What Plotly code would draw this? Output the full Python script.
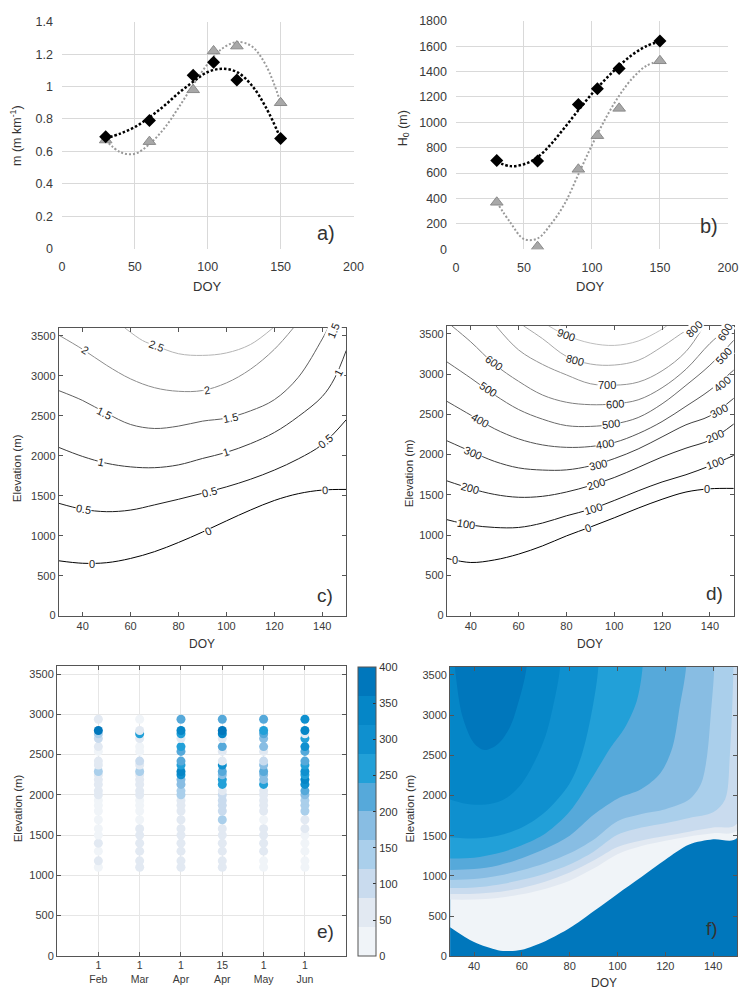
import plotly.graph_objects as go

W, H = 749, 997
FONT = "Liberation Sans, Arial, Helvetica, sans-serif"
TXT = "#333333"

# ---------------- Panel a / b : observations ----------------
DOY_OBS = [30, 60, 90, 104, 120, 150]
M_BLACK = [0.69, 0.79, 1.07, 1.15, 1.04, 0.68]
M_GRAY = [0.67, 0.66, 0.98, 1.22, 1.25, 0.90]
H0_BLACK = [700, 695, 1140, 1265, 1425, 1640]
H0_GRAY = [370, 20, 630, 895, 1110, 1485]

# trend lines
TREND_DOY = [30, 40, 50, 60, 70, 80, 90, 100, 110, 120, 130, 140, 150]
M_BLACK_TREND = [0.68, 0.71, 0.75, 0.81, 0.88, 0.96, 1.03, 1.09, 1.11, 1.09, 1.01, 0.87, 0.68]
M_GRAY_TREND = [0.67, 0.595, 0.585, 0.645, 0.74, 0.87, 1.01, 1.14, 1.235, 1.275, 1.25, 1.13, 0.90]
H0_BLACK_TREND = [690, 655, 670, 725, 830, 960, 1095, 1225, 1340, 1445, 1535, 1600, 1640]
H0_GRAY_TREND = [370, 210, 80, 85, 200, 360, 590, 820, 1030, 1210, 1350, 1445, 1485]

# ---------------- Panel c : contour lines ----------------
C_LEVELS = ["0", "0.5", "1", "1.5", "2", "2.5"]
C_DOY = [
    [30, 40, 50, 60, 70, 80, 90, 100, 110, 120, 130, 140, 150],
    [30, 40, 50, 60, 70, 80, 90, 100, 110, 120, 130, 140, 150],
    [30, 40, 50, 60, 70, 80, 90, 100, 110, 120, 130, 140, 145, 150],
    [30, 40, 50, 60, 70, 80, 90, 100, 110, 120, 130, 140, 142.5],
    [30, 40, 50, 60, 70, 80, 90, 100, 110, 120, 128],
    [57.5, 65, 70, 80, 90, 100, 110, 119.5],
]
C_ELEV = [
    [686, 655, 662, 715, 800, 915, 1045, 1185, 1320, 1440, 1525, 1570, 1578],
    [1405, 1330, 1300, 1320, 1385, 1455, 1530, 1610, 1705, 1820, 1960, 2140, 2450],
    [2104, 1990, 1905, 1860, 1850, 1885, 1965, 2042, 2150, 2290, 2490, 2740, 2960, 3316],
    [2814, 2690, 2530, 2390, 2340, 2370, 2432, 2470, 2560, 2700, 2980, 3460, 3600],
    [3508, 3330, 3130, 2960, 2850, 2805, 2815, 2910, 3080, 3330, 3600],
    [3600, 3440, 3380, 3275, 3254, 3285, 3390, 3600],
]
C_COLORS = ["#000000", "#1c1c1c", "#3a3a3a", "#5e5e5e", "#8c8c8c", "#b4b4b4"]
# label text, DOY, elevation, angle
C_LABELS = [
    ("0", 44, 650, 0), ("0", 92.5, 1060, -24), ("0", 141, 1570, -3),
    ("0.5", 40.3, 1330, 10), ("0.5", 93, 1540, -14), ("0.5", 141.5, 2180, -39),
    ("1", 47.8, 1920, 12), ("1", 100, 2042, -17), ("1", 146.5, 3040, -62),
    ("1.5", 49, 2540, 26), ("1.5", 101.5, 2475, -12), ("1.5", 144.6, 3560, -68),
    ("2", 41, 3316, 32), ("2", 92, 2822, -10),
    ("2.5", 71, 3377, 20),
]

# ---------------- Panel d : contour lines ----------------
D_LEVELS = ["0", "100", "200", "300", "400", "500", "600", "700", "800", "900"]
D_GRID = [30, 40, 50, 60, 70, 80, 90, 100, 110, 120, 130, 140, 150]
D_DOY = [
    D_GRID, D_GRID, D_GRID, D_GRID, D_GRID, D_GRID,
    [32, 40, 50, 60, 70, 80, 90, 100, 110, 120, 130, 140, 148.5],
    [50.5, 60, 70, 80, 90, 100, 110, 120, 130, 137.5],
    [62, 70, 80, 90, 100, 110, 120, 130, 134],
    [72.5, 80, 90, 100, 110, 119, 122],
]
D_ELEV = [
    [711, 660, 692, 764, 866, 990, 1100, 1215, 1335, 1445, 1535, 1575, 1580],
    [1192, 1125, 1095, 1095, 1150, 1240, 1320, 1430, 1550, 1660, 1750, 1860, 1990],
    [1674, 1578, 1505, 1470, 1482, 1535, 1615, 1715, 1840, 1970, 2080, 2180, 2380],
    [2172, 2040, 1915, 1835, 1808, 1810, 1860, 1950, 2070, 2220, 2370, 2480, 2700],
    [2662, 2490, 2320, 2195, 2120, 2090, 2100, 2150, 2260, 2410, 2600, 2800, 3050],
    [3152, 2950, 2740, 2560, 2440, 2360, 2350, 2380, 2460, 2630, 2860, 3110, 3420],
    [3600, 3400, 3120, 2910, 2740, 2650, 2620, 2630, 2680, 2830, 3060, 3380, 3600],
    [3600, 3300, 3120, 2990, 2880, 2862, 2900, 3040, 3280, 3600],
    [3600, 3440, 3220, 3125, 3112, 3170, 3340, 3540, 3600],
    [3600, 3480, 3385, 3356, 3410, 3540, 3600],
]
D_LABELS = [
    ("0", 33.4, 690, 0), ("0", 88.9, 1085, -20), ("0", 138.9, 1578, 0),
    ("100", 38.2, 1135, 9), ("100", 91, 1330, -17), ("100", 142.3, 1895, -21),
    ("200", 39.6, 1585, 16), ("200", 92.3, 1635, -17), ("200", 142.3, 2225, -24),
    ("300", 41, 2025, 23), ("300", 93, 1875, -13), ("300", 143.7, 2540, -28),
    ("400", 43.7, 2430, 30), ("400", 96, 2128, -8), ("400", 145.1, 2880, -40),
    ("500", 47.1, 2810, 34), ("500", 98.5, 2375, -6), ("500", 145.8, 3220, -48),
    ("600", 49.9, 3140, 36), ("600", 100.5, 2632, -4), ("600", 146.4, 3520, -58),
    ("700", 96.8, 2862, 0),
    ("800", 83.4, 3180, 14), ("800", 133.4, 3560, -45),
    ("900", 80, 3480, 20),
]

# ---------------- Panel e : scatter ----------------
E_DATES = ["1<br>Feb", "1<br>Mar", "1<br>Apr", "15<br>Apr", "1<br>May", "1<br>Jun"]
E_ELEV = [1100, 1180, 1300, 1400, 1500, 1580, 1690, 1800, 1870, 1930, 2000, 2050,
          2130, 2190, 2250, 2290, 2370, 2420, 2540, 2600, 2700, 2760, 2800, 2940]
E_FEB = [30, 50, 30, 40, 20, 20, 10, 20, 20, 30, 50, 70, 50, 60, 40, 130, 40, 40, 30, 40, 90, 140, 380, 40]
E_MAR = [70, 70, 40, 40, 50, 50, 10, 30, 30, 30, 50, 50, 50, 40, 40, 150, 40, 100, 20, 30, 40, 260, 60, 30]
E_APR1 = [40, 40, 50, 40, 40, 60, 50, 60, 60, 60, 130, 140, 180, 180, 280, 330, 260, 200, 210, 260, 60, 270, 330, 220]
E_APR15 = [40, 60, 40, 40, 40, 50, 130, 100, 90, 80, 80, 60, 260, 260, 180, 230, 280, 70, 50, 210, 70, 340, 380, 220]
E_MAY = [20, 30, 40, 60, 70, 40, 30, 50, 50, 60, 60, 70, 270, 160, 180, 200, 170, 80, 70, 180, 170, 220, 270, 220]
E_JUN = [20, 20, 20, 30, 30, 40, 60, 140, 130, 140, 170, 220, 310, 330, 240, 290, 270, 220, 230, 280, 270, 70, 340, 310]
E_SERIES = [E_FEB, E_MAR, E_APR1, E_APR15, E_MAY, E_JUN]

# ---------------- Panel f : filled bands (boundaries of value >= level) ----------------
F_LEVELS = [0, 40, 80, 120, 160, 200, 240, 280, 320, 360]
F_DOY = [
    [30, 40, 50, 55, 60, 70, 80, 90, 100, 110, 120, 130, 140, 150],
    [30, 40, 50, 60, 70, 80, 90, 100, 110, 120, 130, 140, 150],
    [30, 40, 50, 60, 70, 80, 90, 100, 110, 120, 130, 140, 150],
    [30, 40, 50, 60, 70, 80, 90, 100, 110, 120, 130, 140, 145, 147, 148.5],
    [30, 40, 50, 60, 70, 80, 90, 100, 110, 120, 130, 135, 137.5, 139, 140.5],
    [30, 40, 50, 60, 70, 80, 90, 100, 110, 118, 123, 126, 128.7],
    [30, 40, 50, 60, 70, 80, 90, 97, 103, 108, 110.5],
    [30, 40, 50, 60, 70, 80, 85, 89, 92],
    [30, 36, 43, 50, 55, 60, 65, 70, 73, 76],
    [32, 35, 40, 44.5, 50, 55, 58, 62],
]
F_ELEV = [
    [360, 175, 75, 65, 80, 190, 350, 560, 775, 985, 1200, 1390, 1455, 1470],
    [704, 705, 725, 770, 840, 940, 1090, 1270, 1370, 1435, 1490, 1530, 1568],
    [773, 778, 800, 850, 930, 1040, 1190, 1360, 1440, 1495, 1550, 1600, 1649],
    [847, 855, 890, 950, 1030, 1140, 1300, 1510, 1600, 1655, 1720, 1790, 1950, 2500, 3600],
    [949, 960, 1000, 1070, 1160, 1280, 1450, 1680, 1770, 1830, 1950, 2150, 2500, 3000, 3600],
    [1072, 1085, 1130, 1220, 1340, 1500, 1760, 1960, 2080, 2280, 2600, 3100, 3600],
    [1216, 1225, 1280, 1380, 1530, 1800, 2250, 2590, 2840, 3170, 3600],
    [1481, 1465, 1500, 1600, 1800, 2150, 2500, 3000, 3600],
    [1949, 1900, 1885, 1920, 2000, 2150, 2400, 2750, 3100, 3600],
    [3600, 3000, 2650, 2565, 2640, 2850, 3100, 3600],
]
BAND_COLORS = ["#f0f4f8", "#e2e9f2", "#c9dbee", "#aacfeb", "#88bde3",
               "#56a9da", "#22a0d8", "#0f90cf", "#0586c7", "#0077bc"]
NOSNOW_COLOR = "#0077bc"
Y_CAP = 4300

# ---------------- layout helpers ----------------
def xd(a, b):
    return [a / W, b / W]


def yd(top, bottom):
    return [1 - bottom / H, 1 - top / H]


fig = go.Figure()

# ---- a ----
fig.add_trace(go.Scatter(x=TREND_DOY, y=M_GRAY_TREND, mode="lines", xaxis="x", yaxis="y",
                         line=dict(color="#9a9a9a", width=2, dash="2px,2px", shape="spline")))
fig.add_trace(go.Scatter(x=TREND_DOY, y=M_BLACK_TREND, mode="lines", xaxis="x", yaxis="y",
                         line=dict(color="#000000", width=2.5, dash="2.5px,2px", shape="spline")))
fig.add_trace(go.Scatter(x=DOY_OBS, y=M_GRAY, mode="markers", xaxis="x", yaxis="y",
                         marker=dict(symbol="triangle-up", size=11, color="#a8a8a8",
                                     line=dict(color="#8a8a8a", width=1))))
fig.add_trace(go.Scatter(x=DOY_OBS, y=M_BLACK, mode="markers", xaxis="x", yaxis="y",
                         marker=dict(symbol="diamond", size=10, color="#000000")))

# ---- b ----
fig.add_trace(go.Scatter(x=TREND_DOY, y=H0_GRAY_TREND, mode="lines", xaxis="x2", yaxis="y2",
                         line=dict(color="#9a9a9a", width=2, dash="2px,2px", shape="spline")))
fig.add_trace(go.Scatter(x=TREND_DOY, y=H0_BLACK_TREND, mode="lines", xaxis="x2", yaxis="y2",
                         line=dict(color="#000000", width=2.5, dash="2.5px,2px", shape="spline")))
fig.add_trace(go.Scatter(x=DOY_OBS, y=H0_GRAY, mode="markers", xaxis="x2", yaxis="y2",
                         marker=dict(symbol="triangle-up", size=11, color="#a8a8a8",
                                     line=dict(color="#8a8a8a", width=1))))
fig.add_trace(go.Scatter(x=DOY_OBS, y=H0_BLACK, mode="markers", xaxis="x2", yaxis="y2",
                         marker=dict(symbol="diamond", size=10, color="#000000")))

# ---- c ----
for doy, elev, col in zip(C_DOY, C_ELEV, C_COLORS):
    fig.add_trace(go.Scatter(x=doy, y=elev, mode="lines", xaxis="x3", yaxis="y3",
                             line=dict(color=col, width=1, shape="spline")))

# ---- d ----
for i, (doy, elev) in enumerate(zip(D_DOY, D_ELEV)):
    g = int(round(0 + 190 * i / (len(D_LEVELS) - 1)))
    col = "rgb(%d,%d,%d)" % (g, g, g)
    fig.add_trace(go.Scatter(x=doy, y=elev, mode="lines", xaxis="x4", yaxis="y4",
                             line=dict(color=col, width=1, shape="spline")))

# ---- e ----
cscale = []
for i, c in enumerate(BAND_COLORS):
    cscale.append([i / len(BAND_COLORS), c])
    cscale.append([(i + 1) / len(BAND_COLORS), c])

for k, vals in enumerate(E_SERIES):
    fig.add_trace(go.Scatter(
        x=[k + 1] * len(E_ELEV), y=E_ELEV, mode="markers", xaxis="x5", yaxis="y5",
        marker=dict(size=9, color=vals, colorscale=cscale, cmin=0, cmax=400,
                    showscale=(k == 0), line=dict(width=0),
                    colorbar=dict(x=361.5 / W, xanchor="left", xpad=0, ypad=0,
                                  y=1 - 962.7 / H, yanchor="bottom",
                                  len=(962.7 - 669.3) / H, lenmode="fraction",
                                  thickness=18, thicknessmode="pixels",
                                  outlinecolor="#555555", outlinewidth=1,
                                  tickvals=[0, 50, 100, 150, 200, 250, 300, 350, 400],
                                  ticks="inside", ticklen=3, tickcolor="#333333",
                                  tickfont=dict(family=FONT, size=11, color=TXT)))))

# ---- f ----
for doy, elev, col in zip(F_DOY, F_ELEV, BAND_COLORS):
    xs = list(doy) + [doy[-1], doy[0]]
    ys = list(elev) + [Y_CAP, Y_CAP]
    fig.add_trace(go.Scatter(x=xs, y=ys, mode="lines", fill="toself", fillcolor=col,
                             xaxis="x6", yaxis="y6", hoverinfo="skip",
                             line=dict(width=0, color=col, shape="spline", smoothing=0.9)))

# ---------------- axes ----------------
tickfont_ab = dict(family=FONT, size=12.5, color="#3a3a3a")
tickfont_m = dict(family=FONT, size=11, color="#3a3a3a")

excel_axis = dict(showgrid=True, gridcolor="#d9d9d9", gridwidth=1, zeroline=False,
                  showline=False, ticks="", tickfont=tickfont_ab, ticklabeloverflow="allow")
mat_axis = dict(showgrid=False, zeroline=False, showline=True, linecolor="#555555",
                linewidth=1, mirror="ticks", ticks="inside", ticklen=4,
                tickcolor="#555555", tickfont=tickfont_m)

lay = dict(
    width=W, height=H, margin=dict(l=0, r=0, t=0, b=0), autosize=False,
    paper_bgcolor="white", plot_bgcolor="white", showlegend=False,
    font=dict(family=FONT, color=TXT),
    xaxis=dict(domain=xd(60, 356.7), anchor="y", range=[0, 200], dtick=50,
               ticklabelstandoff=9, **excel_axis),
    yaxis=dict(domain=yd(15, 245), anchor="x", range=[0, 1.4], dtick=0.2,
               ticklabelstandoff=8, **excel_axis),
    xaxis2=dict(domain=xd(461, 737.7), anchor="y2", range=[0, 200], dtick=50,
                ticklabelstandoff=9, **excel_axis),
    yaxis2=dict(domain=yd(14, 245.7), anchor="x2", range=[0, 1800], dtick=200,
                ticklabelstandoff=8, **excel_axis),
    xaxis3=dict(domain=xd(56.7, 349.3), anchor="y3", range=[30, 150], tickvals=[40, 60, 80, 100, 120, 140], **mat_axis),
    yaxis3=dict(domain=yd(325.3, 617.3), anchor="x3", range=[0, 3600], tickvals=list(range(0, 3501, 500)), **mat_axis),
    xaxis4=dict(domain=xd(451.7, 743.7), anchor="y4", range=[30, 150], tickvals=[40, 60, 80, 100, 120, 140], **mat_axis),
    yaxis4=dict(domain=yd(323.3, 617.3), anchor="x4", range=[0, 3600], tickvals=list(range(0, 3501, 500)), **mat_axis),
    xaxis5=dict(domain=xd(55, 349.3), anchor="y5", range=[0, 7], tickvals=[1, 2, 3, 4, 5, 6],
                ticktext=E_DATES, showgrid=True, gridcolor="#e6e6e6",
                **{k: v for k, v in mat_axis.items() if k != "showgrid"}),
    yaxis5=dict(domain=yd(668.5, 962.3), anchor="x5", range=[0, 3600], tickvals=list(range(0, 3501, 500)),
                showgrid=True, gridcolor="#e6e6e6",
                **{k: v for k, v in mat_axis.items() if k != "showgrid"}),
    xaxis6=dict(domain=xd(455, 747), anchor="y6", range=[30, 150], tickvals=[40, 60, 80, 100, 120, 140], **mat_axis),
    yaxis6=dict(domain=yd(669.3, 962.7), anchor="x6", range=[0, 3600], tickvals=list(range(0, 3501, 500)), **mat_axis),
)
lay["xaxis5"]["tickfont"] = dict(family=FONT, size=10.5, color="#3a3a3a")
fig.update_layout(**lay)

# background for the no-snow area of panel f
fig.add_shape(type="rect", xref="x6 domain", yref="y6 domain", x0=0, x1=1, y0=0, y1=1,
              fillcolor=NOSNOW_COLOR, line=dict(width=0), layer="below")

ann = []


def paper_text(text, px, py, size, angle=0):
    ann.append(dict(text=text, x=px / W, y=1 - py / H, xref="paper", yref="paper",
                    showarrow=False, textangle=angle, xanchor="center", yanchor="middle",
                    font=dict(family=FONT, size=size, color=TXT)))


paper_text("m (m km<sup>-1</sup>)", 13, 130, 12.5, -90)
paper_text("DOY", 208, 283, 13)
paper_text("H<sub>0</sub> (m)", 408, 123, 12.5, -90)
paper_text("DOY", 598, 283, 13)
paper_text("Elevation (m)", 15, 468, 11.5, -90)
paper_text("DOY", 203, 646, 12)
paper_text("Elevation (m)", 414, 473, 11.5, -90)
paper_text("DOY", 597, 646, 12)
paper_text("Elevation (m)", 15, 813, 11.5, -90)
paper_text("Elevation (m)", 414, 813, 11.5, -90)
paper_text("DOY", 612, 990, 12)

paper_text("a)", 329, 229, 20)
paper_text("b)", 718, 222, 20)
paper_text("c)", 328, 597, 19)
paper_text("d)", 724, 595, 19)
paper_text("e)", 328, 938, 19)
paper_text("f)", 722, 935, 19)

for axis_x, axis_y, labels in (("x3", "y3", C_LABELS), ("x4", "y4", D_LABELS)):
    for text, xv, yv, ang in labels:
        ann.append(dict(text=text, x=xv, y=yv, xref=axis_x, yref=axis_y, showarrow=False,
                        textangle=ang, bgcolor="white", borderpad=0,
                        font=dict(family=FONT, size=11, color="#222222")))

fig.update_layout(annotations=ann)

RESET_JS = (
    "var s=document.createElement('style');"
    "s.innerHTML='html,body{margin:0!important;padding:0!important;overflow:hidden!important;}"
    "body>div{display:block;line-height:0;}';"
    "document.head.appendChild(s);"
)
fig.write_html("out.html", config={"displayModeBar": False, "responsive": False},
               post_script=RESET_JS)
